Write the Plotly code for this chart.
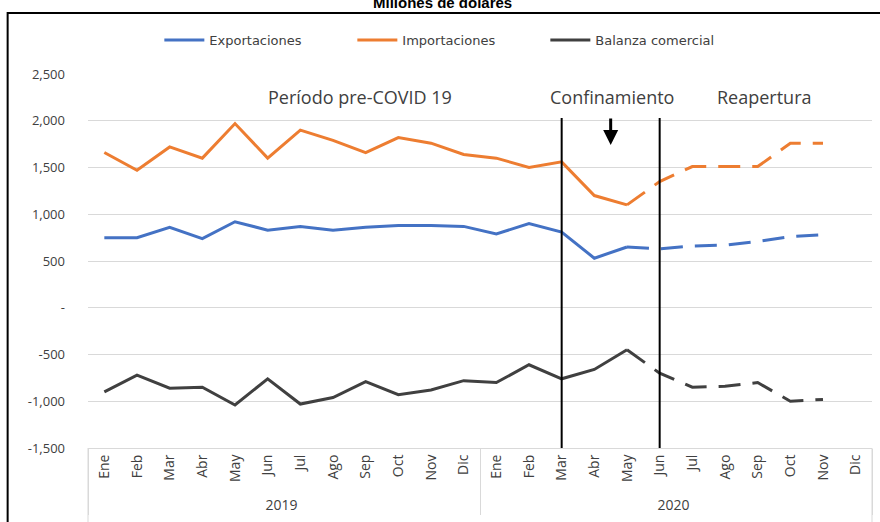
import plotly.graph_objects as go

meses = ["Ene", "Feb", "Mar", "Abr", "May", "Jun", "Jul", "Ago", "Sep", "Oct", "Nov", "Dic"]
anios = ["2019", "2020"]

# Ene 2019 ... Nov 2020 (Dic 2020 sin dato)
exportaciones = [750, 750, 860, 740, 920, 830, 870, 830, 860, 880, 880, 870,
                 790, 900, 810, 530, 650, 630, 660, 670, 710, 760, 780, None]
importaciones = [1660, 1470, 1720, 1600, 1970, 1600, 1900, 1790, 1660, 1820, 1760, 1640,
                 1600, 1500, 1560, 1200, 1100, 1350, 1510, 1510, 1510, 1760, 1760, None]
balanza = [-900, -720, -860, -850, -1040, -760, -1030, -960, -790, -930, -880, -780,
           -800, -610, -760, -660, -450, -700, -850, -840, -800, -1000, -980, None]

ultimo_real = 16  # May 2020 (índice)
y_ticks = [2500, 2000, 1500, 1000, 500, 0, -500, -1000, -1500]
y_text = ["2,500", "2,000", "1,500", "1,000", "500", "-", "-500", "-1,000", "-1,500"]

x_cat = [[a for a in anios for _ in meses], [m for _ in anios for m in meses]]

series = [
    ("Exportaciones", exportaciones, "#4472C4"),
    ("Importaciones", importaciones, "#ED7D31"),
    ("Balanza comercial", balanza, "#404040"),
]

fig = go.Figure()
for nombre, vals, color in series:
    real = [v if i <= ultimo_real else None for i, v in enumerate(vals)]
    proy = [v if i >= ultimo_real else None for i, v in enumerate(vals)]
    fig.add_trace(go.Scatter(x=x_cat, y=real, name=nombre, mode="lines",
                             line=dict(color=color, width=3), showlegend=True))
    fig.add_trace(go.Scatter(x=x_cat, y=proy, name=nombre, mode="lines",
                             line=dict(color=color, width=3, dash="22px,12px"),
                             showlegend=False))

font_fam = "'Open Sans', sans-serif"

# vertical lines: Mar 2020 and Jun 2020
for xi in [14, 17]:
    fig.add_shape(type="line", x0=xi, x1=xi, y0=2030, y1=-1500, xref="x", yref="y",
                  line=dict(color="black", width=2))

# category box edges
for xp in [0, 1]:
    fig.add_shape(type="line", xref="paper", yref="paper", x0=xp, x1=xp, y0=0, y1=-0.3,
                  line=dict(color="#d9d9d9", width=1))

# frame
fig.add_shape(type="rect", xref="paper", yref="paper", x0=-0.1025, x1=1.2, y0=-0.5, y1=1.163,
              line=dict(color="black", width=2), fillcolor="rgba(0,0,0,0)", layer="above")

fig.add_annotation(x=15.5, y=1740, ax=0, ay=-28, showarrow=True, arrowhead=2,
                   arrowsize=1, arrowwidth=3, arrowcolor="black", text="")

for txt, xi in [("Período pre-COVID 19", 7.83), ("Confinamiento", 15.54), ("Reapertura", 20.2)]:
    fig.add_annotation(x=xi, y=2254, text=txt, showarrow=False,
                       font=dict(family=font_fam, size=18, color="#404040"))

fig.add_annotation(x=0.452, y=1.19, xref="paper", yref="paper", text="<b>Millones de dólares</b>",
                   showarrow=False, yanchor="middle",
                   font=dict(family="Liberation Sans, Arial", size=15, color="black"))

fig.update_layout(
    width=880, height=522,
    margin=dict(l=88, r=8, t=74, b=74),
    paper_bgcolor="white", plot_bgcolor="white",
    showlegend=True,
    legend=dict(orientation="h", x=0.091, xanchor="left", y=1.091, yanchor="middle",
                font=dict(family="DejaVu Sans, sans-serif", size=13, color="#404040"),
                entrywidth=138, entrywidthmode="pixels", itemwidth=40),
    font=dict(family=font_fam, color="#404040"),
)
fig.update_yaxes(range=[-1500, 2500], tickvals=y_ticks, ticktext=y_text,
                 showgrid=True, gridcolor="#d9d9d9", gridwidth=1,
                 zeroline=False, ticks="", ticklabelstandoff=22,
                 tickfont=dict(family=font_fam, size=13, color="#404040"))
fig.update_xaxes(type="multicategory", tickangle=-90, showgrid=False,
                 range=[-0.5, 23.5],
                 showline=True, linecolor="#d9d9d9", showdividers=True,
                 dividercolor="#d9d9d9", dividerwidth=1,
                 tickfont=dict(family=font_fam, size=14, color="#404040"))

fig.write_html("out.html", config={"displayModeBar": False},
               post_script="document.body.style.margin='0px';")
